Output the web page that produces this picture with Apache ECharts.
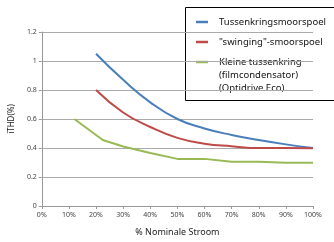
<!DOCTYPE html>
<html>
<head>
<meta charset="utf-8">
<script src="https://cdn.jsdelivr.net/npm/echarts@6/dist/echarts.min.js"></script>
<style>
  html, body { margin: 0; padding: 0; background: #fff; }
  #chart { width: 334px; height: 242px; }
</style>
</head>
<body>
<div id="chart"></div>
<script>
// legend names
var seriesNames = ["Tussenkringsmoorspoel", "\"swinging\"-smoorspoel", "Kleine tussenkring\n(filmcondensator)\n(Optidrive Eco)"];
var seriesColors = ["#4a7ebb", "#be4b48", "#98b954"];

// % nominale stroom / iTHD
var blueX = [20, 30, 40, 50, 60, 70, 80, 90, 100];
var blueY = [1.05, 0.87, 0.715, 0.60, 0.535, 0.49, 0.455, 0.425, 0.40];
var redX = [20, 30, 40, 50, 60, 70, 80, 90, 100];
var redY = [0.80, 0.645, 0.545, 0.47, 0.43, 0.412, 0.40, 0.40, 0.398];
var greenX = [12, 22.5, 30, 40, 50, 60, 70, 80, 90, 100];
var greenY = [0.60, 0.455, 0.41, 0.365, 0.325, 0.325, 0.305, 0.305, 0.298, 0.298];

function pairs(xs, ys) {
  return xs.map(function (x, i) { return [x, ys[i]]; });
}

var font = "'Noto Sans', sans-serif";
var chart = echarts.init(document.getElementById("chart"), null, { renderer: "canvas" });

// legend box drawn by hand (icon sits on first text line)
var legendItems = [];
var rowY = [22, 42, 62];
seriesNames.forEach(function (n, i) {
  legendItems.push({
    type: "line",
    shape: { x1: 196, y1: rowY[i], x2: 208, y2: rowY[i] },
    style: { stroke: seriesColors[i], lineWidth: 2.5 }
  });
  legendItems.push({
    type: "text",
    x: 219, y: rowY[i] - 6.5,
    style: { text: n, font: "9.5px " + font, fill: "#111", lineHeight: 13, verticalAlign: "top" }
  });
});

var option = {
  animation: false,
  grid: { left: 39, right: 21, top: 32, bottom: 34 },
  xAxis: {
    type: "value",
    min: 0, max: 100, interval: 10,
    name: "% Nominale Stroom",
    nameLocation: "middle",
    nameGap: 22,
    nameTextStyle: { fontSize: 9, color: "#222", fontFamily: font },
    axisLine: { lineStyle: { color: "#999" } },
    axisTick: { show: true, length: 3, lineStyle: { color: "#999" } },
    axisLabel: { formatter: "{value}%", fontSize: 7, color: "#444", margin: 5, fontFamily: font },
    splitLine: { show: false }
  },
  yAxis: {
    type: "value",
    min: 0, max: 1.2, interval: 0.2,
    name: "iTHD(%)",
    nameLocation: "middle",
    nameGap: 22,
    nameTextStyle: { fontSize: 8, color: "#222", fontFamily: font },
    axisLine: { show: true, lineStyle: { color: "#999" } },
    axisTick: { show: true, length: 3, lineStyle: { color: "#999" } },
    axisLabel: { fontSize: 7, color: "#444", margin: 5, fontFamily: font },
    splitLine: { lineStyle: { color: "#aaa", width: 1 } }
  },
  series: [
    { name: seriesNames[0], type: "line", smooth: 0.5, symbol: "none",
      lineStyle: { color: seriesColors[0], width: 2 }, data: pairs(blueX, blueY) },
    { name: seriesNames[1], type: "line", smooth: 0.5, symbol: "none",
      lineStyle: { color: seriesColors[1], width: 2 }, data: pairs(redX, redY) },
    { name: seriesNames[2], type: "line", symbol: "none",
      lineStyle: { color: seriesColors[2], width: 2 }, data: pairs(greenX, greenY) }
  ],
  graphic: [{
    type: "group",
    z: 100,
    children: [{
      type: "rect",
      shape: { x: 185.5, y: 7.5, width: 160, height: 93 },
      style: { fill: "#fff", stroke: "#000", lineWidth: 1 }
    }].concat(legendItems)
  }]
};
chart.setOption(option);
</script>
</body>
</html>
